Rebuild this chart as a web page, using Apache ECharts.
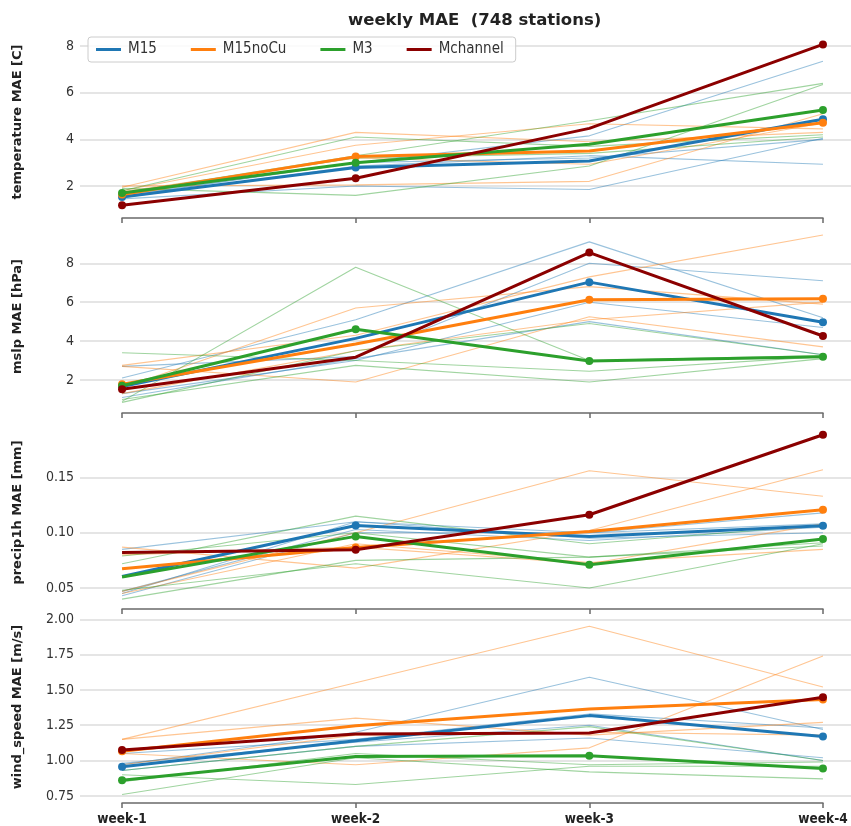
<!DOCTYPE html>
<html><head><meta charset="utf-8">
<script src="https://cdn.jsdelivr.net/npm/echarts@6/dist/echarts.min.js"></script>
<style>html,body{margin:0;padding:0;background:#fff}#c{width:851px;height:826px}</style>
</head><body><div id="c"></div>
<script>
// ---------- categories ----------
const weeks = ['week-1', 'week-2', 'week-3', 'week-4'];
const models = ['M15', 'M15noCu', 'M3', 'Mchannel'];

// ---------- temperature MAE [C] ----------
const temp_M15 = [1.53, 2.79, 3.07, 4.86];
const temp_M15noCu = [1.64, 3.26, 3.50, 4.71];
const temp_M3 = [1.70, 3.00, 3.79, 5.26];
const temp_Mchannel = [1.17, 2.33, 4.47, 8.07];
const temp_M15_members = [[1.45, 2.00, 1.85, 4.05], [1.55, 3.00, 4.15, 7.35], [1.50, 2.85, 3.30, 2.93], [1.60, 3.00, 3.20, 4.00]];
const temp_M15noCu_members = [[1.95, 4.30, 3.90, 4.30], [1.80, 3.75, 4.67, 4.45], [2.00, 2.05, 2.20, 5.10], [1.75, 3.20, 2.93, 4.70]];
const temp_M3_members = [[1.80, 4.10, 3.70, 4.20], [1.90, 1.60, 2.86, 6.35], [1.70, 3.30, 4.80, 6.40], [1.70, 3.20, 3.40, 4.10]];

// ---------- msl MAE [hPa] ----------
const mslp_M15 = [1.66, 4.14, 7.03, 4.97];
const mslp_M15noCu = [1.78, 3.85, 6.12, 6.17];
const mslp_M3 = [1.70, 4.61, 2.98, 3.20];
const mslp_Mchannel = [1.52, 3.17, 8.55, 4.26];
const mslp_M15_members = [[2.10, 5.10, 9.10, 5.20], [2.70, 3.20, 8.00, 7.10], [1.30, 3.00, 6.00, 4.70], [1.10, 3.10, 5.00, 3.30]];
const mslp_M15noCu_members = [[1.60, 5.70, 6.80, 5.90], [2.75, 4.30, 7.30, 9.45], [2.70, 1.90, 5.25, 3.70], [1.30, 3.50, 5.10, 6.00]];
const mslp_M3_members = [[0.90, 7.80, 3.00, 3.25], [3.40, 3.00, 2.45, 3.20], [1.00, 2.75, 1.90, 3.10], [0.85, 3.50, 4.90, 3.30]];

// ---------- precip1h MAE [mm] ----------
const prec_M15 = [0.0605, 0.1066, 0.0967, 0.1063];
const prec_M15noCu = [0.0675, 0.0867, 0.1012, 0.1208];
const prec_M3 = [0.0599, 0.0967, 0.0711, 0.0943];
const prec_Mchannel = [0.0822, 0.0846, 0.1163, 0.1886];
const prec_M15_members = [[0.045, 0.110, 0.100, 0.118], [0.047, 0.103, 0.093, 0.105], [0.085, 0.110, 0.095, 0.100], [0.043, 0.100, 0.100, 0.108]];
const prec_M15noCu_members = [[0.047, 0.100, 0.156, 0.133], [0.087, 0.068, 0.102, 0.157], [0.045, 0.090, 0.073, 0.085], [0.080, 0.087, 0.072, 0.108]];
const prec_M3_members = [[0.072, 0.115, 0.090, 0.107], [0.048, 0.072, 0.050, 0.090], [0.040, 0.075, 0.078, 0.091], [0.079, 0.100, 0.078, 0.088]];

// ---------- wind_speed MAE [m/s] ----------
const wind_M15 = [0.956, 1.140, 1.318, 1.171];
const wind_M15noCu = [1.065, 1.247, 1.365, 1.432];
const wind_M3 = [0.861, 1.029, 1.034, 0.944];
const wind_Mchannel = [1.075, 1.188, 1.195, 1.448];
const wind_M15_members = [[0.97, 1.20, 1.59, 1.22], [1.05, 1.15, 1.33, 1.23], [0.93, 1.10, 1.16, 1.02], [0.98, 1.13, 1.25, 1.00]];
const wind_M15noCu_members = [[1.15, 1.55, 1.95, 1.52], [1.05, 0.97, 1.09, 1.74], [1.15, 1.30, 1.18, 1.27], [0.97, 1.18, 1.20, 1.18]];
const wind_M3_members = [[0.93, 1.10, 1.24, 1.00], [0.90, 0.83, 0.96, 0.96], [0.76, 1.02, 0.92, 0.87], [0.85, 1.05, 0.97, 0.99]];

// ---------- weeks that carry a marker on the bold lines ----------
const temp_markerWeeks = [[0, 1, 3], [0, 1, 3], [0, 1, 3], [0, 1, 3]];
const mslp_markerWeeks = [[0, 2, 3], [0, 2, 3], [0, 1, 2, 3], [0, 2, 3]];
const prec_markerWeeks = [[1, 3], [1, 3], [1, 2, 3], [1, 2, 3]];
const wind_markerWeeks = [[0, 3], [0, 3], [0, 2, 3], [0, 3]];

// ---------- tick labels ----------
const temp_ticks = [2, 4, 6, 8];
const mslp_ticks = [2, 4, 6, 8];
const prec_ticks = [0.05, 0.10, 0.15];
const wind_ticks = [0.75, 1.00, 1.25, 1.50, 1.75, 2.00];

const colors = { M15: '#1f77b4', M15noCu: '#ff7f0e', M3: '#2ca02c', Mchannel: '#8b0000' };
const tickFont = '"DejaVu Sans Condensed", "Liberation Sans Narrow", "DejaVu Sans", sans-serif';

const panels = [
  { title: 'temperature MAE [C]', means: [temp_M15, temp_M15noCu, temp_M3, temp_Mchannel],
    members: [temp_M15_members, temp_M15noCu_members, temp_M3_members], marks: temp_markerWeeks,
    ticks: temp_ticks, dec: 0, top: 36, bottom: 208, min: 1.057, max: 8.43, spine: 218 },
  { title: 'mslp MAE [hPa]', means: [mslp_M15, mslp_M15noCu, mslp_M3, mslp_Mchannel],
    members: [mslp_M15_members, mslp_M15noCu_members, mslp_M3_members], marks: mslp_markerWeeks,
    ticks: mslp_ticks, dec: 0, top: 230, bottom: 403, min: 0.817, max: 9.71, spine: 413 },
  { title: 'precip1h MAE [mm]', means: [prec_M15, prec_M15noCu, prec_M3, prec_Mchannel],
    members: [prec_M15_members, prec_M15noCu_members, prec_M3_members], marks: prec_markerWeeks,
    ticks: prec_ticks, dec: 2, top: 425, bottom: 600, min: 0.0392, max: 0.1974, spine: 609 },
  { title: 'wind_speed MAE [m/s]', means: [wind_M15, wind_M15noCu, wind_M3, wind_Mchannel],
    members: [wind_M15_members, wind_M15noCu_members, wind_M3_members], marks: wind_markerWeeks,
    ticks: wind_ticks, dec: 2, top: 617, bottom: 797, min: 0.742, max: 2.016, spine: 803 }
];

const grid = [], xAxis = [], yAxis = [], series = [];
panels.forEach((p, k) => {
  const gi = 2 * k, ga = 2 * k + 1;
  grid.push({ left: 80, right: 0, top: p.top, height: p.bottom - p.top });
  grid.push({ left: 122, width: 701, top: p.spine - 1, height: 1 });
  xAxis.push({ gridIndex: gi, type: 'value', min: -0.18, max: 3.12, show: false });
  xAxis.push({ gridIndex: ga, type: 'value', min: 0, max: 3, interval: 1,
    axisLine: { show: true, lineStyle: { color: '#6a6a6a', width: 1.5 } },
    axisTick: { show: true, length: 5, lineStyle: { color: '#6a6a6a', width: 1.5 } },
    splitLine: { show: false },
    axisLabel: { show: k === panels.length - 1, formatter: v => weeks[v], margin: 9,
      fontFamily: tickFont, fontWeight: 'bold', fontSize: 13.5, color: '#222' } });
  yAxis.push({ gridIndex: gi, type: 'value', min: p.min, max: p.max,
    axisLine: { show: false },
    axisTick: { show: false, customValues: p.ticks },
    axisLabel: { customValues: p.ticks, formatter: v => v.toFixed(p.dec), margin: 6,
      fontFamily: tickFont, fontSize: 14, color: '#333' },
    splitLine: { show: true, lineStyle: { color: '#dcdcdc', width: 1.5 } },
    name: p.title, nameLocation: 'middle', nameGap: 56,
    nameTextStyle: { fontFamily: 'DejaVu Sans', fontWeight: 'bold', fontSize: 13, color: '#222' } });
  yAxis.push({ gridIndex: ga, type: 'value', show: false });

  // thin member lines
  p.members.forEach((group, m) => {
    const name = models[m];
    group.forEach((arr, j) => {
      series.push({ type: 'line', name: name + ' member ' + (j + 1), xAxisIndex: gi, yAxisIndex: gi,
        data: arr.map((v, i) => [i, v]), symbol: 'none', silent: true, z: 2,
        lineStyle: { width: 1.1, color: colors[name], opacity: 0.45 } });
    });
  });
  // bold mean lines
  p.means.forEach((arr, m) => {
    const name = models[m];
    series.push({ type: 'line', name, xAxisIndex: gi, yAxisIndex: gi, z: 3 + m,
      data: arr.map((v, i) => ({ value: [i, v], symbol: p.marks[m].includes(i) ? 'circle' : 'none' })),
      symbolSize: 8, showAllSymbol: true,
      lineStyle: { width: 3, color: colors[name] }, itemStyle: { color: colors[name] } });
  });
});

const chart = echarts.init(document.getElementById('c'), null, { renderer: 'canvas' });
chart.setOption({
  animation: false,
  backgroundColor: '#fff',
  color: models.map(m => colors[m]),
  title: { text: 'weekly MAE  (748 stations)', left: 343, top: 7,
    textStyle: { fontFamily: 'DejaVu Sans', fontWeight: 'bold', fontSize: 16.5, color: '#222' } },
  legend: { data: models.map(name => ({ name, icon: 'rect' })), left: 88, top: 37,
    itemWidth: 25, itemHeight: 3, itemGap: 34,
    textStyle: { fontFamily: tickFont, fontSize: 15, color: '#333', padding: [0, 0, 0, 2] },
    borderColor: '#cccccc', borderWidth: 1, borderRadius: 3, padding: [5, 12, 5, 8],
    backgroundColor: 'rgba(255,255,255,0.85)' },
  grid, xAxis, yAxis, series
});
</script>
</body></html>
